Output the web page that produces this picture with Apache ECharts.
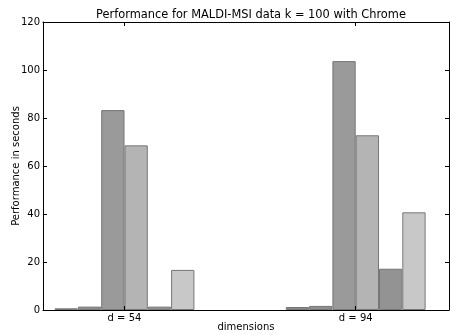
<!DOCTYPE html>
<html>
<head>
<meta charset="utf-8">
<script src="https://cdn.jsdelivr.net/npm/echarts@6/dist/echarts.min.js"></script>
<style>html,body{margin:0;padding:0;background:#fff}#c{width:450px;height:335px}</style>
</head>
<body>
<div id="c"></div>
<script>
const categories = ['d = 54', 'd = 94'];
const s1 = [0.7, 1.25];
const s2 = [1.4, 1.7];
const s3 = [83.3, 103.7];
const s4 = [68.6, 72.8];
const s5 = [1.4, 17.2];
const s6 = [16.7, 40.7];
const yTicks = [0, 20, 40, 60, 80, 100, 120];

const seriesValues = [s1, s2, s3, s4, s5, s6];
const colors = ['#8a8a8a', '#8e8e8e', '#9a9a9a', '#b4b4b4', '#939393', '#c8c8c8'];
const font = 'DejaVu Sans';

const chart = echarts.init(document.getElementById('c'), null, {renderer: 'canvas'});
const frameAxisX = (pos) => ({
  gridIndex: 0, type: 'value', min: 0, max: 1, position: pos,
  axisLine: {show: true, onZero: false, lineStyle: {color: '#000', width: 1}},
  axisTick: {show: false}, axisLabel: {show: false}, splitLine: {show: false}
});
const catAxisX = (pos, labels) => ({
  gridIndex: 1, type: 'category', data: categories, position: pos,
  axisLine: {show: false, onZero: false},
  axisTick: {show: true, inside: true, alignWithLabel: true, length: 4, lineStyle: {color: '#000'}},
  axisLabel: {show: labels, color: '#000', fontFamily: font, fontSize: 10, margin: 3},
  splitLine: {show: false}, z: 5
});
chart.setOption({
  animation: false,
  title: {
    text: 'Performance for MALDI-MSI data k = 100 with Chrome',
    left: 246, top: 5, textAlign: 'center',
    textStyle: {fontFamily: font, fontSize: 11.4, fontWeight: 'normal', color: '#000'}
  },
  grid: [
    {left: 43, top: 22, width: 406, height: 288, outerBoundsMode: 'none', containLabel: false},
    {left: 8.9, top: 22, width: 462.4, height: 288, outerBoundsMode: 'none', containLabel: false}
  ],
  xAxis: [
    Object.assign(frameAxisX('bottom'), {
      name: 'dimensions', nameLocation: 'middle', nameGap: 12, nameMoveOverlap: false,
      nameTextStyle: {fontFamily: font, fontSize: 10, color: '#000'}
    }),
    frameAxisX('top'),
    catAxisX('bottom', true),
    catAxisX('top', false)
  ],
  yAxis: [
    {
      gridIndex: 0, type: 'value', min: 0, max: 120, interval: 20, position: 'left',
      name: 'Performance in seconds', nameLocation: 'middle', nameGap: 22, nameMoveOverlap: false,
      nameTextStyle: {fontFamily: font, fontSize: 10, color: '#000'},
      axisLine: {show: true, onZero: false, lineStyle: {color: '#000'}},
      axisTick: {show: true, inside: true, length: 4, lineStyle: {color: '#000'}},
      axisLabel: {color: '#000', fontFamily: font, fontSize: 10, margin: 3,
        formatter: v => yTicks.includes(v) ? String(v) : ''},
      splitLine: {show: false}, z: 5
    },
    {
      gridIndex: 0, type: 'value', min: 0, max: 120, interval: 20, position: 'right',
      axisLine: {show: true, onZero: false, lineStyle: {color: '#000'}},
      axisTick: {show: true, inside: true, length: 4, lineStyle: {color: '#000'}},
      axisLabel: {show: false}, splitLine: {show: false}, z: 5
    },
    {
      gridIndex: 1, type: 'value', min: 0, max: 120, show: false, splitLine: {show: false}
    }
  ],
  series: seriesValues.map((vals, i) => ({
    type: 'bar', xAxisIndex: 2, yAxisIndex: 2, data: vals,
    barWidth: 23.3, barGap: '0%',
    itemStyle: {color: colors[i], borderColor: '#777', borderWidth: 1}
  }))
});
</script>
</body>
</html>
